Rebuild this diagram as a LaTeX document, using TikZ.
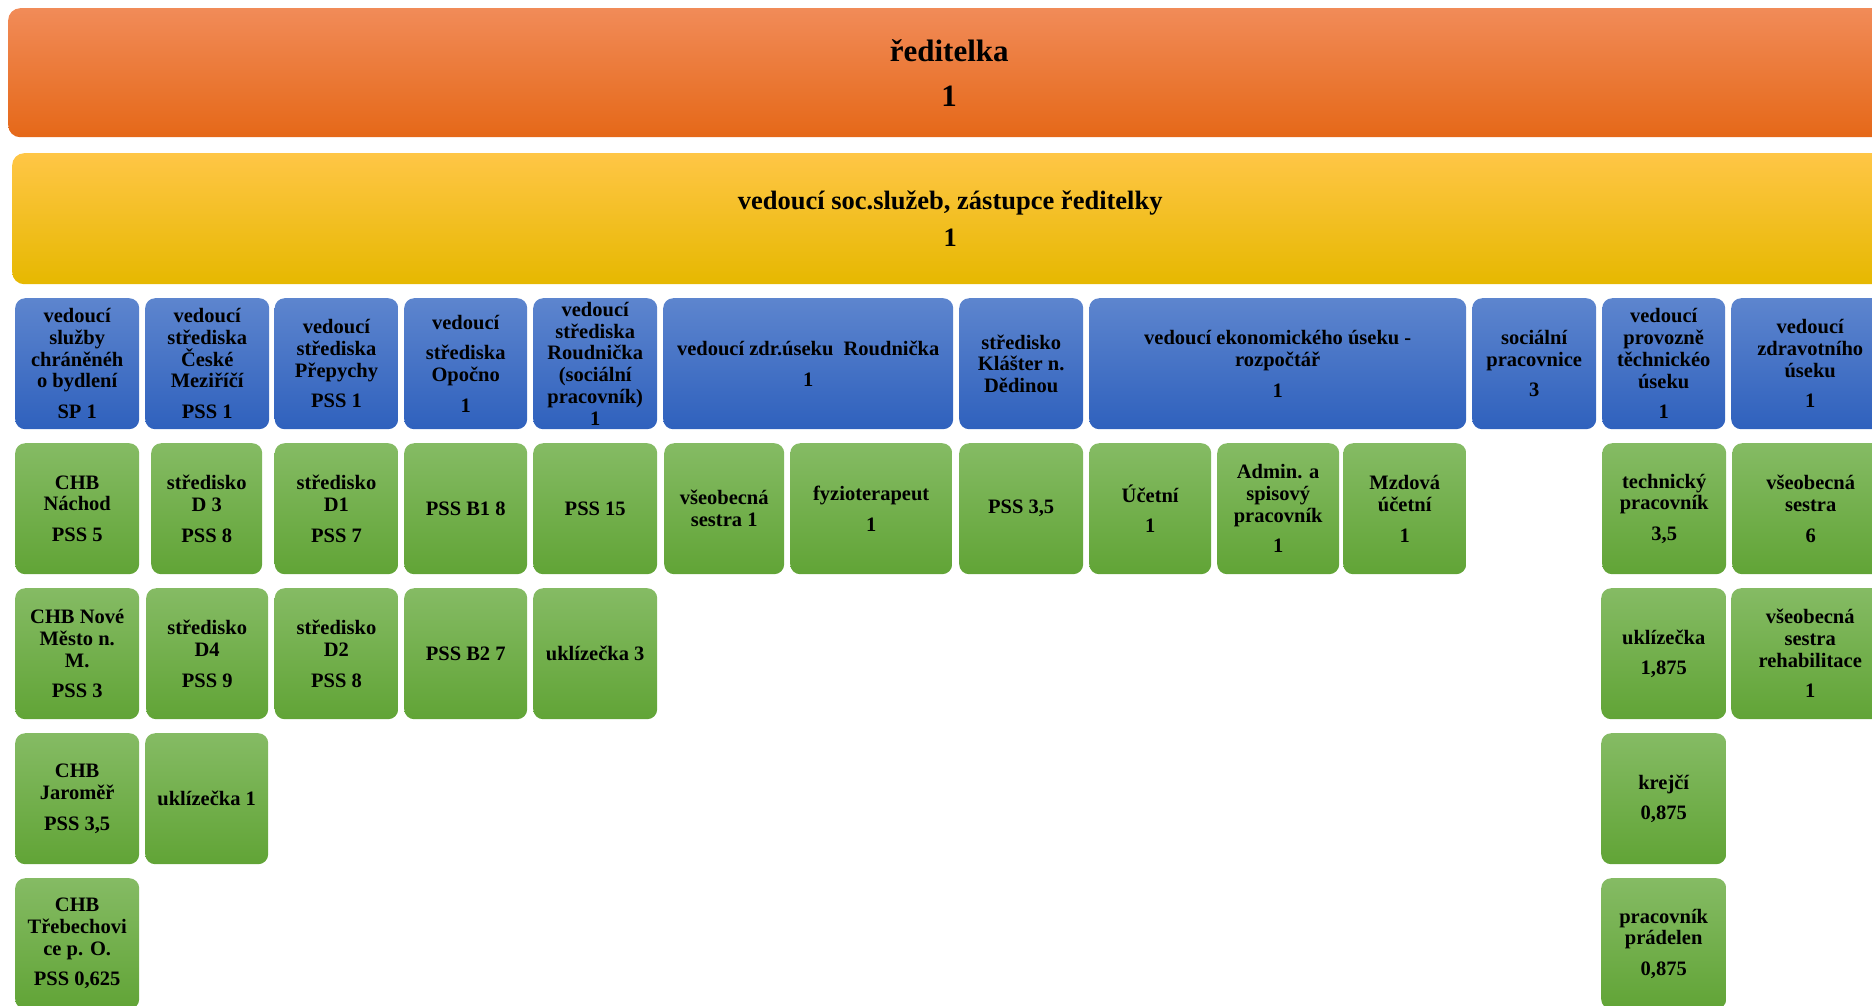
\documentclass[tikz,border=0pt]{standalone}
\usepackage{fontspec}
\setmainfont{Liberation Serif}[BoldFont={Liberation Serif Bold}]
\newfontfamily\tnr{Liberation Serif Bold}
\definecolor{orT}{RGB}{241,139,88}
\definecolor{orM}{RGB}{245,124,38}
\definecolor{orB}{RGB}{229,104,24}
\definecolor{yeT}{RGB}{255,198,70}
\definecolor{yeM}{RGB}{255,199,0}
\definecolor{yeB}{RGB}{230,184,0}
\definecolor{blT}{RGB}{93,133,206}
\definecolor{blB}{RGB}{47,97,189}
\definecolor{grT}{RGB}{133,187,100}
\definecolor{grB}{RGB}{97,164,54}
\newcommand\fbig{\tnr\fontsize{31}{38}\selectfont}
\newcommand\fmid{\tnr\fontsize{26.5}{30}\selectfont}
\newcommand\fsm{\tnr\fontsize{20.5}{21.7}\selectfont}
\newcommand\pg{\\[9pt]}
\tikzset{
  boxbase/.style={rounded corners=10pt, inner sep=0pt, align=center, anchor=north west, text=black, minimum height=131pt},
  topbox/.style={boxbase, rounded corners=12pt, top color=orT, middle color=orM, bottom color=orB, font=\fbig},
  secbox/.style={boxbase, rounded corners=12pt, top color=yeT, middle color=yeM, bottom color=yeB, font=\fmid},
  bluebox/.style={boxbase, top color=blT, bottom color=blB, font=\fsm},
  greenbox/.style={boxbase, top color=grT, bottom color=grB, font=\fsm},
}
\begin{document}
\begin{tikzpicture}[x=1pt,y=-1pt]
\useasboundingbox (0,0) rectangle (1872,1005);
\clip (0,0) rectangle (1872,1005);
% top levels
\node[topbox, minimum width=1882pt, minimum height=129pt] (dir) at (8,8) {ředitelka\\[7pt]1};
\node[secbox, minimum width=1876pt] (dep) at (12,153) {vedoucí soc.služeb, zástupce ředitelky\\[7pt]1};
% blue row
\node[bluebox, minimum width=124pt] (b1) at (15,298) {vedoucí\\služby\\chráněnéh\\o bydlení\pg SP 1};
\node[bluebox, minimum width=124pt] (b2) at (145,298) {vedoucí\\střediska\\České\\Meziříčí\pg PSS 1};
\node[bluebox, minimum width=123.5pt] (b3) at (274.5,298) {vedoucí\\střediska\\Přepychy\pg PSS 1};
\node[bluebox, minimum width=123pt] (b4) at (404,298) {vedoucí\pg střediska\\Opočno\pg 1};
\node[bluebox, minimum width=124pt] (b5) at (533,298) {vedoucí\\střediska\\Roudnička\\(sociální\\pracovník)\\1};
\node[bluebox, minimum width=290pt] (b6) at (663,298) {vedoucí zdr.úseku~~Roudnička\pg 1};
\node[bluebox, minimum width=124pt] (b7) at (959,298) {středisko\\Klášter n.\\Dědinou};
\node[bluebox, minimum width=377pt] (b8) at (1089,298) {vedoucí ekonomického úseku -\\rozpočtář\pg 1};
\node[bluebox, minimum width=124pt] (b9) at (1472,298) {sociální\\pracovnice\pg 3};
\node[bluebox, minimum width=123pt] (b10) at (1602,298) {vedoucí\\provozně\\těchnickéo\\úseku\pg 1};
\node[bluebox, minimum width=158pt] (b11) at (1731,298) {vedoucí\\zdravotního\\úseku\pg 1};
% green row 1
\node[greenbox, minimum width=124pt] (g1) at (15,443) {CHB\\Náchod\pg PSS 5};
\node[greenbox, minimum width=111pt] (g2) at (151,443) {středisko\\D 3\pg PSS 8};
\node[greenbox, minimum width=123.5pt] (g3) at (274.5,443) {středisko\\D1\pg PSS 7};
\node[greenbox, minimum width=123pt] (g4) at (404,443) {PSS B1 8};
\node[greenbox, minimum width=124pt] (g5) at (533,443) {PSS 15};
\node[greenbox, minimum width=120pt] (g6) at (664,443) {všeobecná\\sestra 1};
\node[greenbox, minimum width=162pt] (g7) at (790,443) {fyzioterapeut\pg 1};
\node[greenbox, minimum width=124pt] (g8) at (959,443) {PSS 3,5};
\node[greenbox, minimum width=122pt] (g9) at (1089,443) {Účetní\pg 1};
\node[greenbox, minimum width=122pt] (g10) at (1217,443) {Admin. a\\spisový\\pracovník\pg 1};
\node[greenbox, minimum width=123pt] (g11) at (1343,443) {Mzdová\\účetní\pg 1};
\node[greenbox, minimum width=124pt] (g12) at (1602,443) {technický\\pracovník\pg 3,5};
\node[greenbox, minimum width=157pt] (g13) at (1732,443) {všeobecná\\sestra\pg 6};
% green row 2
\node[greenbox, minimum width=124pt] (h1) at (15,588) {CHB Nové\\Město n.\\M.\pg PSS 3};
\node[greenbox, minimum width=122pt] (h2) at (146,588) {středisko\\D4\pg PSS 9};
\node[greenbox, minimum width=123.5pt] (h3) at (274.5,588) {středisko\\D2\pg PSS 8};
\node[greenbox, minimum width=123pt] (h4) at (404,588) {PSS B2 7};
\node[greenbox, minimum width=124pt] (h5) at (533,588) {uklízečka 3};
\node[greenbox, minimum width=125pt] (h6) at (1601,588) {uklízečka\pg 1,875};
\node[greenbox, minimum width=158pt] (h7) at (1731,588) {všeobecná\\sestra\\rehabilitace\pg 1};
% green row 3
\node[greenbox, minimum width=124pt] (i1) at (15,733) {CHB\\Jaroměř\pg PSS 3,5};
\node[greenbox, minimum width=123pt] (i2) at (145,733) {uklízečka 1};
\node[greenbox, minimum width=125pt] (i3) at (1601,733) {krejčí\pg 0,875};
% green row 4
\node[greenbox, minimum width=124pt] (j1) at (15,878) {CHB\\Třebechovi\\ce p. O.\pg PSS 0,625};
\node[greenbox, minimum width=125pt] (j2) at (1601,878) {pracovník\\prádelen\pg 0,875};
\end{tikzpicture}
\end{document}
